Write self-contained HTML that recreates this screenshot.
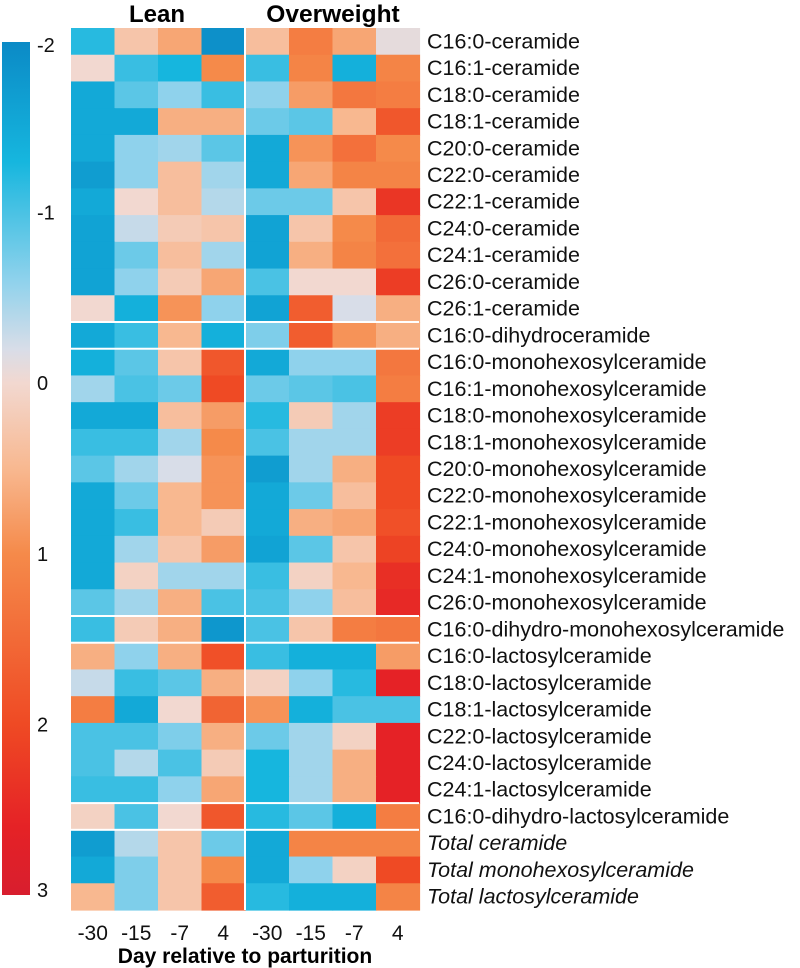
<!DOCTYPE html>
<html><head><meta charset="utf-8">
<style>
html,body{margin:0;padding:0;background:#fff;}
svg{display:block;font-family:"Liberation Sans",Arial,sans-serif;}
</style></head>
<body>
<svg id="chart" width="800" height="968" viewBox="0 0 800 968">
<defs>
<linearGradient id="cbgrad" x1="0" y1="0" x2="0" y2="1"></linearGradient>
</defs>
<g id="cb"></g>
<g id="cells"></g>
<g id="seps"></g>
<g id="labels"></g>
<g id="xt"></g>
<text x="157" y="22" font-size="24" font-weight="bold" text-anchor="middle">Lean</text>
<text x="333" y="22" font-size="24.5" font-weight="bold" text-anchor="middle">Overweight</text>
<text x="245" y="963" font-size="21" font-weight="bold" text-anchor="middle">Day relative to parturition</text>
</svg>
<script>
const rowLabels = ["C16:0-ceramide","C16:1-ceramide","C18:0-ceramide","C18:1-ceramide","C20:0-ceramide","C22:0-ceramide","C22:1-ceramide","C24:0-ceramide","C24:1-ceramide","C26:0-ceramide","C26:1-ceramide","C16:0-dihydroceramide","C16:0-monohexosylceramide","C16:1-monohexosylceramide","C18:0-monohexosylceramide","C18:1-monohexosylceramide","C20:0-monohexosylceramide","C22:0-monohexosylceramide","C22:1-monohexosylceramide","C24:0-monohexosylceramide","C24:1-monohexosylceramide","C26:0-monohexosylceramide","C16:0-dihydro-monohexosylceramide","C16:0-lactosylceramide","C18:0-lactosylceramide","C18:1-lactosylceramide","C22:0-lactosylceramide","C24:0-lactosylceramide","C24:1-lactosylceramide","C16:0-dihydro-lactosylceramide","Total ceramide","Total monohexosylceramide","Total lactosylceramide"];
const italicRows = [30,31,32];
const separatorsAfter = [11,12,22,23,29,30];
const dayLabels = ["-30","-15","-7","4","-30","-15","-7","4"];
const scaleTicks = [-2,-1,0,1,2,3];
const leanValues = [
[-1.2,0.3,0.7,-1.9],[0.0,-1.1,-1.3,1.0],[-1.5,-0.9,-0.6,-1.1],[-1.5,-1.5,0.6,0.6],[-1.5,-0.6,-0.5,-0.9],
[-1.7,-0.6,0.4,-0.5],[-1.5,0.0,0.4,-0.4],[-1.6,-0.3,0.2,0.3],[-1.6,-0.8,0.4,-0.5],[-1.6,-0.6,0.2,0.7],
[0.0,-1.4,0.9,-0.6],[-1.5,-1.1,0.5,-1.4],[-1.4,-0.9,0.3,1.8],[-0.5,-1.0,-0.8,2.0],[-1.5,-1.5,0.4,0.8],
[-1.1,-1.1,-0.5,1.0],[-0.9,-0.5,-0.2,0.9],[-1.5,-0.8,0.5,0.9],[-1.5,-1.1,0.5,0.2],[-1.5,-0.5,0.3,0.8],
[-1.5,0.1,-0.5,-0.5],[-0.9,-0.5,0.6,-1.0],[-1.1,0.2,0.6,-1.8],[0.6,-0.6,0.6,1.9],[-0.3,-1.1,-0.9,0.6],
[1.2,-1.5,0.0,1.6],[-1.0,-1.0,-0.7,0.6],[-1.0,-0.4,-1.0,0.2],[-1.1,-1.1,-0.6,0.7],[0.1,-1.0,0.0,1.8],
[-1.7,-0.4,0.3,-0.8],[-1.5,-0.7,0.3,1.0],[0.5,-0.7,0.3,1.7]];
const overweightValues = [
[0.4,1.2,0.7,-0.1],[-1.1,1.1,-1.4,1.1],[-0.6,0.8,1.3,1.2],[-0.8,-0.9,0.5,1.8],[-1.5,0.9,1.4,1.0],
[-1.5,0.7,1.1,1.1],[-0.8,-0.8,0.3,2.3],[-1.6,0.3,1.0,1.5],[-1.6,0.6,1.1,1.4],[-1.0,0.0,0.0,2.2],
[-1.6,1.7,-0.2,0.6],[-0.7,1.7,0.9,0.6],[-1.5,-0.6,-0.6,1.3],[-0.8,-0.9,-1.0,1.2],[-1.2,0.2,-0.5,2.2],
[-1.0,-0.5,-0.5,2.2],[-1.7,-0.5,0.6,2.0],[-1.5,-0.8,0.4,2.0],[-1.5,0.6,0.7,1.9],[-1.6,-0.9,0.3,2.1],
[-1.1,0.1,0.5,2.4],[-1.0,-0.6,0.4,2.5],[-1.0,0.3,1.2,1.3],[-1.1,-1.4,-1.4,0.8],[0.1,-0.6,-1.2,2.6],
[0.9,-1.4,-1.0,-1.0],[-0.8,-0.5,0.1,2.6],[-1.3,-0.5,0.6,2.6],[-1.3,-0.5,0.6,2.6],[-1.2,-0.9,-1.4,1.2],
[-1.5,1.1,1.1,1.1],[-1.5,-0.6,0.1,2.0],[-1.2,-1.4,-1.4,1.1]];

const NS="http://www.w3.org/2000/svg";
const stops=[[-2,[11,138,198]],[-1.3,[22,182,222]],[-0.6,[143,210,236]],[-0.2,[216,221,232]],[0,[242,216,208]],[0.5,[248,184,144]],[1,[245,138,74]],[2,[239,74,36]],[2.6,[229,34,38]],[3,[216,30,46]]];
function color(v){
  if(v<=stops[0][0])return rgb(stops[0][1]);
  for(let i=1;i<stops.length;i++){
    if(v<=stops[i][0]){const a=stops[i-1],b=stops[i];const t=(v-a[0])/(b[0]-a[0]);
      return rgb(a[1].map((c,k)=>c+(b[1][k]-c)*t));}
  }
  return rgb(stops[stops.length-1][1]);
}
function rgb(a){return "rgb("+a.map(Math.round).join(",")+")";}
const top0=28,rowH=882/33,colW=43.5,leanX=71,owX=245.5;
function yPos(r){return top0+r*rowH;}
function xPos(g,c){return (g===0?leanX:owX)+c*colW;}
function mk(tag,attrs,parent){const e=document.createElementNS(NS,tag);for(const k in attrs)e.setAttribute(k,attrs[k]);parent.appendChild(e);return e;}

const cells=document.getElementById('cells');
[leanValues,overweightValues].forEach((grp,g)=>{
  grp.forEach((row,r)=>{row.forEach((v,c)=>{
    const e=mk('rect',{x:xPos(g,c),y:yPos(r),width:colW+0.6,height:rowH+0.6,fill:color(v)},cells);
    
    
  });});
});
const seps=document.getElementById('seps');
const gapLine=mk('rect',{x:244,y:top0,width:2,height:882,fill:'#fff'},seps);


separatorsAfter.forEach(r=>{
  const e=mk('rect',{x:71,y:yPos(r)-1,width:348,height:2,fill:'#fff'},seps);
  
  
});
const labels=document.getElementById('labels');
rowLabels.forEach((t,r)=>{
  const e=mk('text',{x:427,y:yPos(r)+rowH/2+7,'font-size':21.5,fill:'#111'},labels);
  if(italicRows.includes(r))e.setAttribute('font-style','italic');
  e.textContent=t;
  
  
});
const xt=document.getElementById('xt');
dayLabels.forEach((t,i)=>{
  const g=i<4?0:1,c=i%4;
  const e=mk('text',{x:xPos(g,c)+colW/2,y:940,'font-size':21,'text-anchor':'middle',fill:'#111'},xt);
  e.textContent=t;
  
  
});
const grad=document.getElementById('cbgrad');
stops.forEach(s=>{mk('stop',{offset:((s[0]+2)/5*100)+'%','stop-color':rgb(s[1])},grad);});
const cb=document.getElementById('cb');
const cbTop=42,cbBot=895;
function cbY(v){return cbTop+(v+2)/5*(cbBot-cbTop);}
const bar=mk('rect',{x:2,y:cbTop,width:28,height:cbBot-cbTop,fill:'url(#cbgrad)'},cb);


scaleTicks.forEach(v=>{
  let y=cbY(v)+7; if(v===-2)y+=3; if(v===3)y-=5;
  const e=mk('text',{x:37,y:y,'font-size':20,fill:'#111'},cb);
  e.textContent=String(v);
  
  
});
</script>
</body></html>
